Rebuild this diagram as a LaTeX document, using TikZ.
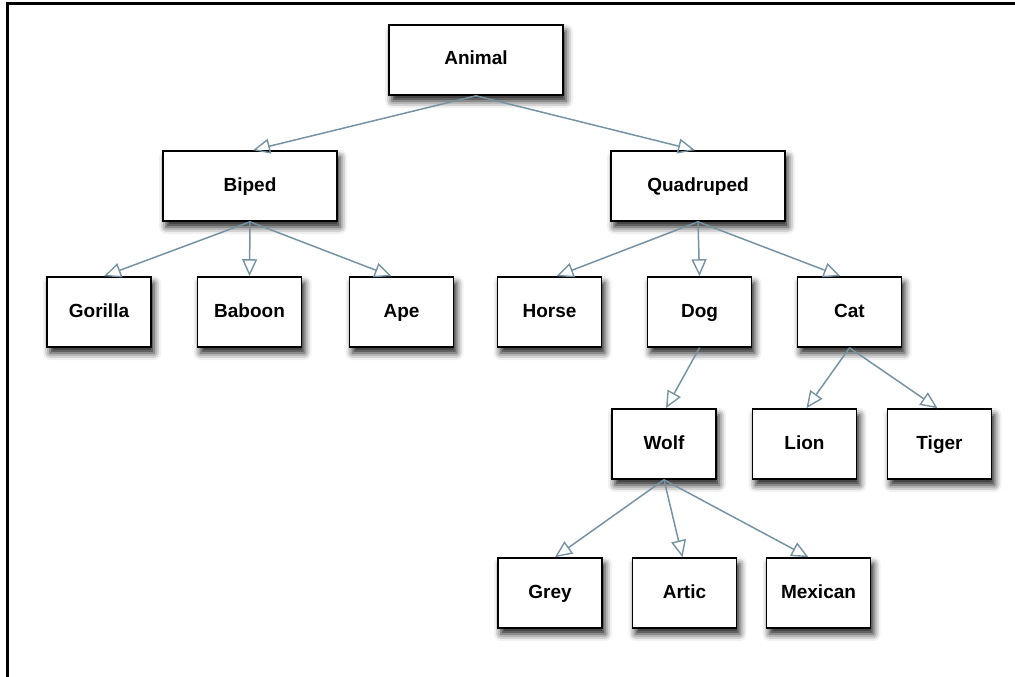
\documentclass[tikz,border=0pt]{standalone}
\usepackage{fontspec}
\setmainfont{Liberation Sans}
\usetikzlibrary{arrows.meta,shadows.blur}
\definecolor{edgecol}{HTML}{7693A3}
\tikzset{
  box/.style={draw=black, line width=1.6pt, fill=white, inner sep=0pt,
    minimum width=104pt, minimum height=70pt, text height=14pt, text depth=4pt,
    font=\fontsize{19}{22}\selectfont\bfseries,
    blur shadow={shadow xshift=3pt, shadow yshift=-6pt, shadow blur radius=7pt, shadow opacity=90}},
  widebox/.style={box, minimum width=174pt},
  edge/.style={draw=edgecol, line width=1.5pt, -{Triangle[open, length=17pt, width=15pt, line width=1.4pt]}},
  frame/.style={draw=black, line width=3pt}
}
\begin{document}
\begin{tikzpicture}[x=1pt,y=-1pt]
\useasboundingbox (0,0) rectangle (1015,677);
\coordinate (ftl) at (7,4);
\coordinate (ftr) at (1016,4);
\coordinate (fbl) at (7,678);
\draw[frame] (ftr) -- (ftl) -- (fbl);

\node[widebox] (animal) at (476,60) {Animal};
\node[widebox] (biped) at (250,186) {Biped};
\node[widebox] (quad) at (698,186) {Quadruped};
\node[box] (gorilla) at (99,312) {Gorilla};
\node[box] (baboon) at (249.5,312) {Baboon};
\node[box] (ape) at (401.5,312) {Ape};
\node[box] (horse) at (549.5,312) {Horse};
\node[box] (dog) at (699.5,312) {Dog};
\node[box] (cat) at (849.5,312) {Cat};
\node[box] (wolf) at (664,444) {Wolf};
\node[box] (lion) at (804.5,444) {Lion};
\node[box] (tiger) at (939.5,444) {Tiger};
\node[box] (grey) at (550,593) {Grey};
\node[box] (artic) at (684.5,593) {Artic};
\node[box] (mexican) at (818.5,593) {Mexican};

\draw[edge] (animal.south) -- ([xshift=3pt]biped.north);
\draw[edge] (animal.south) -- ([xshift=-3pt]quad.north);
\draw[edge] (biped.south) -- ([xshift=5pt]gorilla.north);
\draw[edge] (biped.south) -- (baboon.north);
\draw[edge] (biped.south) -- ([xshift=-10pt]ape.north);
\draw[edge] (quad.south) -- ([xshift=7pt]horse.north);
\draw[edge] (quad.south) -- (dog.north);
\draw[edge] (quad.south) -- ([xshift=-9pt]cat.north);
\draw[edge] (dog.south) -- ([xshift=2pt]wolf.north);
\draw[edge] (cat.south) -- ([xshift=2pt]lion.north);
\draw[edge] (cat.south) -- ([xshift=-2pt]tiger.north);
\draw[edge] (wolf.south) -- ([xshift=5pt]grey.north);
\draw[edge] (wolf.south) -- ([xshift=-2pt]artic.north);
\draw[edge] (wolf.south) -- ([xshift=-10pt]mexican.north);
\end{tikzpicture}
\end{document}
